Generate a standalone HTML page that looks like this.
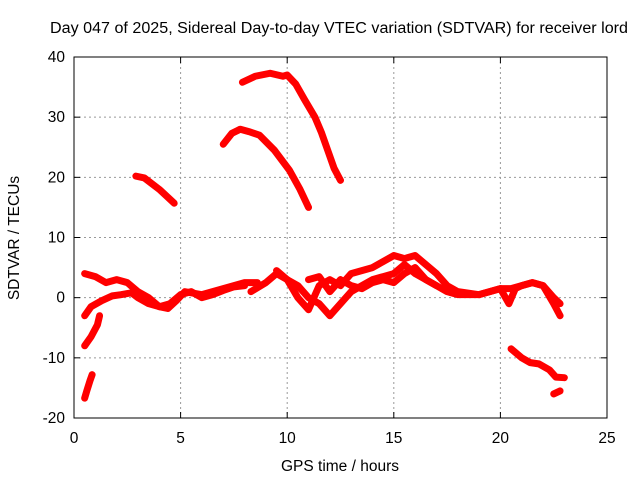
<!DOCTYPE html>
<html><head><meta charset="utf-8"><style>
body{margin:0;background:#fff;}
svg text{font-family:"Liberation Sans",sans-serif;font-size:15.5px;fill:#000;}
</style></head><body>
<svg id="chart" width="640" height="480" xmlns="http://www.w3.org/2000/svg">
<text x="339" y="33" text-anchor="middle" textLength="578" lengthAdjust="spacingAndGlyphs">Day 047 of 2025, Sidereal Day-to-day VTEC variation (SDTVAR) for receiver lord</text>
<text x="340" y="471" text-anchor="middle">GPS time / hours</text>
<text transform="translate(19,238) rotate(-90)" text-anchor="middle">SDTVAR / TECUs</text>
<g id="grid"></g><g id="axes"></g><g id="marks"></g>
</svg>
<script>
const xTicks=[0,5,10,15,20,25];
const yTicks=[-20,-10,0,10,20,30,40];
const trackAx=[7.9,8.5,9.2,9.8,10.0,10.4,10.8,11.3,11.6,11.9,12.2,12.5];
const trackAy=[35.8,36.8,37.3,36.8,37,35.5,33,30,27.5,24.5,21.5,19.5];
const trackBx=[7.0,7.4,7.8,8.2,8.7,9.4,10.1,10.6,11.0];
const trackBy=[25.5,27.3,28,27.6,27,24.5,21.2,18,15];
const trackCx=[2.9,3.3,4.0,4.7];
const trackCy=[20.2,19.9,18,15.7];
const trackDx=[0.5,0.8,1.1,1.2];
const trackDy=[-8,-6.5,-4.5,-3];
const trackEx=[0.5,0.8,1.3,1.8,2.2,2.7,3,3.5,4,4.5,5,5.5,6,6.5,7,7.5,8];
const trackEy=[-3,-1.5,-0.5,0.3,0.5,0.8,0,-1,-1.5,-1,0.5,1,0,0.5,1.2,1.8,2];
const trackFx=[0.5,1,1.5,2,2.5,3,3.5,4,4.4,4.8,5.2,6,7,8,8.6];
const trackFy=[4,3.5,2.5,3,2.5,1,0,-1.5,-1.8,-0.5,1,0.5,1.5,2.5,2.5];
const trackGx=[8.3,9,9.5,10,10.5,11,11.5,12,12.5,13,13.5,14,15,15.5,16,17,17.5,18,19,19.5,20,20.5,21,21.5,22,22.5,22.8];
const trackGy=[1,2.5,4,3,2,0,-1,-3,-1,1,2,3,4,5.5,4,2,1,0.5,0.5,1,1.5,1.5,2,2.5,2,0,-1];
const trackHx=[9.5,10,10.5,11,11.5,12,12.5,13,13.5,14,14.5,15,15.5,16,16.5,17,17.5,18,19,20,20.4,20.7,21,21.5,22,22.5,22.8];
const trackHy=[4.5,3,0,-2,2,3,2,4,4.5,5,6,7,6.5,7,5.5,4,2,1,0.5,1.5,-1,1.5,2,2.5,2,-1,-3];
const trackIx=[11,11.5,12,12.5,13,13.5,14,14.5,15,15.5,16,16.5,17];
const trackIy=[3,3.5,1,3,2,1.5,2.5,3,2.5,4,5,3,2];
const trackJx=[20.5,21,21.4,21.8,22.3,22.6,23.0];
const trackJy=[-8.5,-10,-10.8,-11,-12,-13.2,-13.3];
const trackKx=[0.5,0.6,0.75,0.85];
const trackKy=[-16.7,-15.5,-13.8,-12.8];
const trackLx=[22.5,22.8];
const trackLy=[-16,-15.5];
const tracks=[[trackAx,trackAy],[trackBx,trackBy],[trackCx,trackCy],[trackDx,trackDy],[trackEx,trackEy],[trackFx,trackFy],[trackGx,trackGy],[trackHx,trackHy],[trackIx,trackIy],[trackJx,trackJy],[trackKx,trackKy],[trackLx,trackLy]];
const L=74,R=607,T=57,B=418;
const sx=v=>L+(v-0)/25*(R-L);
const sy=v=>B-(v+20)/60*(B-T);
const NS="http://www.w3.org/2000/svg";
function mk(tag,attrs,parent){const e=document.createElementNS(NS,tag);for(const k in attrs)e.setAttribute(k,attrs[k]);parent.appendChild(e);return e;}
const grid=document.getElementById('grid'),axes=document.getElementById('axes'),marks=document.getElementById('marks');
xTicks.forEach(t=>{
  if(t>0&&t<25){const g=mk('line',{x1:sx(t),x2:sx(t),y1:T,y2:B,stroke:'#999','stroke-dasharray':'2,3','stroke-width':1},grid);
  
  }
  mk('line',{x1:sx(t),x2:sx(t),y1:B,y2:B-6,stroke:'#000'},axes);
  mk('line',{x1:sx(t),x2:sx(t),y1:T,y2:T+6,stroke:'#000'},axes);
  const tx=mk('text',{x:sx(t),y:B+25,'text-anchor':'middle'},axes);tx.textContent=t;
  
  
});
yTicks.forEach(t=>{
  if(t>-20&&t<40){const g=mk('line',{x1:L,x2:R,y1:sy(t),y2:sy(t),stroke:'#999','stroke-dasharray':'2,3','stroke-width':1},grid);
  
  }
  mk('line',{x1:L,x2:L+6,y1:sy(t),y2:sy(t),stroke:'#000'},axes);
  mk('line',{x1:R,x2:R-6,y1:sy(t),y2:sy(t),stroke:'#000'},axes);
  const tx=mk('text',{x:L-9,y:sy(t)+5,'text-anchor':'end'},axes);tx.textContent=t;
  
  
});
const frame=mk('rect',{x:L,y:T,width:R-L,height:B-T,fill:'none',stroke:'#000'},axes);


tracks.forEach(([xs,ys])=>{
  const pts=xs.map((x,i)=>sx(x)+','+sy(ys[i])).join(' ');
  const p=mk('polyline',{points:pts,fill:'none',stroke:'#f00','stroke-width':7,'stroke-linejoin':'round','stroke-linecap':'round'},marks);
  
  
});
</script>
</body></html>
